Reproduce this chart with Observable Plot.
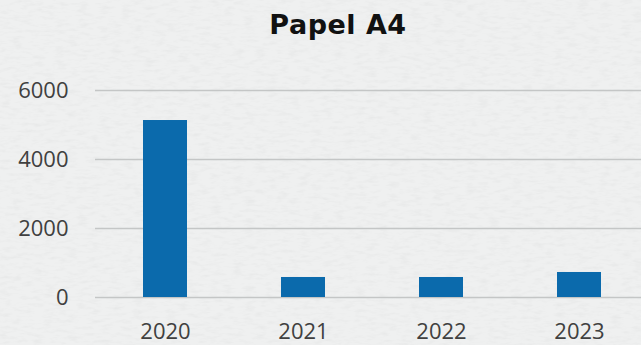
<!DOCTYPE html>
<html>
<head>
<meta charset="utf-8">
<script src="https://cdn.jsdelivr.net/npm/d3@7"></script>
<script src="https://cdn.jsdelivr.net/npm/@observablehq/plot@0.6"></script>
<style>
  html, body { margin: 0; padding: 0; overflow: hidden; }
  body {
    background-color: #eff0f0;
    background-image: url("data:image/svg+xml;utf8,<svg xmlns='http://www.w3.org/2000/svg' width='641' height='345'><filter id='n'><feTurbulence type='fractalNoise' baseFrequency='0.09 0.3' numOctaves='3' seed='4'/><feColorMatrix values='0 0 0 0 0.6 0 0 0 0 0.61 0 0 0 0 0.61 0 0 0 0.45 -0.2'/></filter><rect width='641' height='345' filter='url(%23n)'/></svg>");
  }
  #title {
    height: 30px; box-sizing: content-box;
    padding: 10px 0 10px 35px; margin: 0; width: 606px;
    text-align: center; font-family: "DejaVu Sans", sans-serif; font-weight: bold;
    font-size: 27px; line-height: 30px; color: #111; letter-spacing: 0.5px;
  }
  #chart svg { display: block; }
</style>
</head>
<body>
<div id="title">Papel A4</div>
<div id="chart"></div>
<script>
const years = ["2020", "2021", "2022", "2023"];
const values = [5130, 580, 580, 725];
const yTicks = [0, 2000, 4000, 6000];

const data = years.map((y, i) => ({year: y, value: values[i]}));

const chart = Plot.plot({
  width: 641,
  height: 295,
  marginLeft: 95,
  marginRight: 0,
  marginTop: 40,
  marginBottom: 48,
  style: {background: "transparent", fontFamily: "'Open Sans', sans-serif", fontSize: "22px", color: "#404040"},
  x: {domain: years, range: [95, 649], paddingInner: 0.682, paddingOuter: 0.341, label: null},
  y: {domain: [0, 6000], label: null},
  marks: [
    Plot.ruleY(yTicks, {stroke: "#c4c6c6", strokeWidth: 1.5}),
    Plot.barY(data, {x: "year", y: "value", fill: "#0b6aac"}),
    Plot.axisX({tickSize: 0, tickPadding: 26, fontSize: 22, fill: "#404040", label: null}),
    Plot.axisY({ticks: yTicks, tickSize: 0, tickPadding: 27, fontSize: 22, fill: "#404040", label: null, tickFormat: d => String(d)})
  ]
});
document.getElementById("chart").appendChild(chart);
</script>
</body>
</html>
